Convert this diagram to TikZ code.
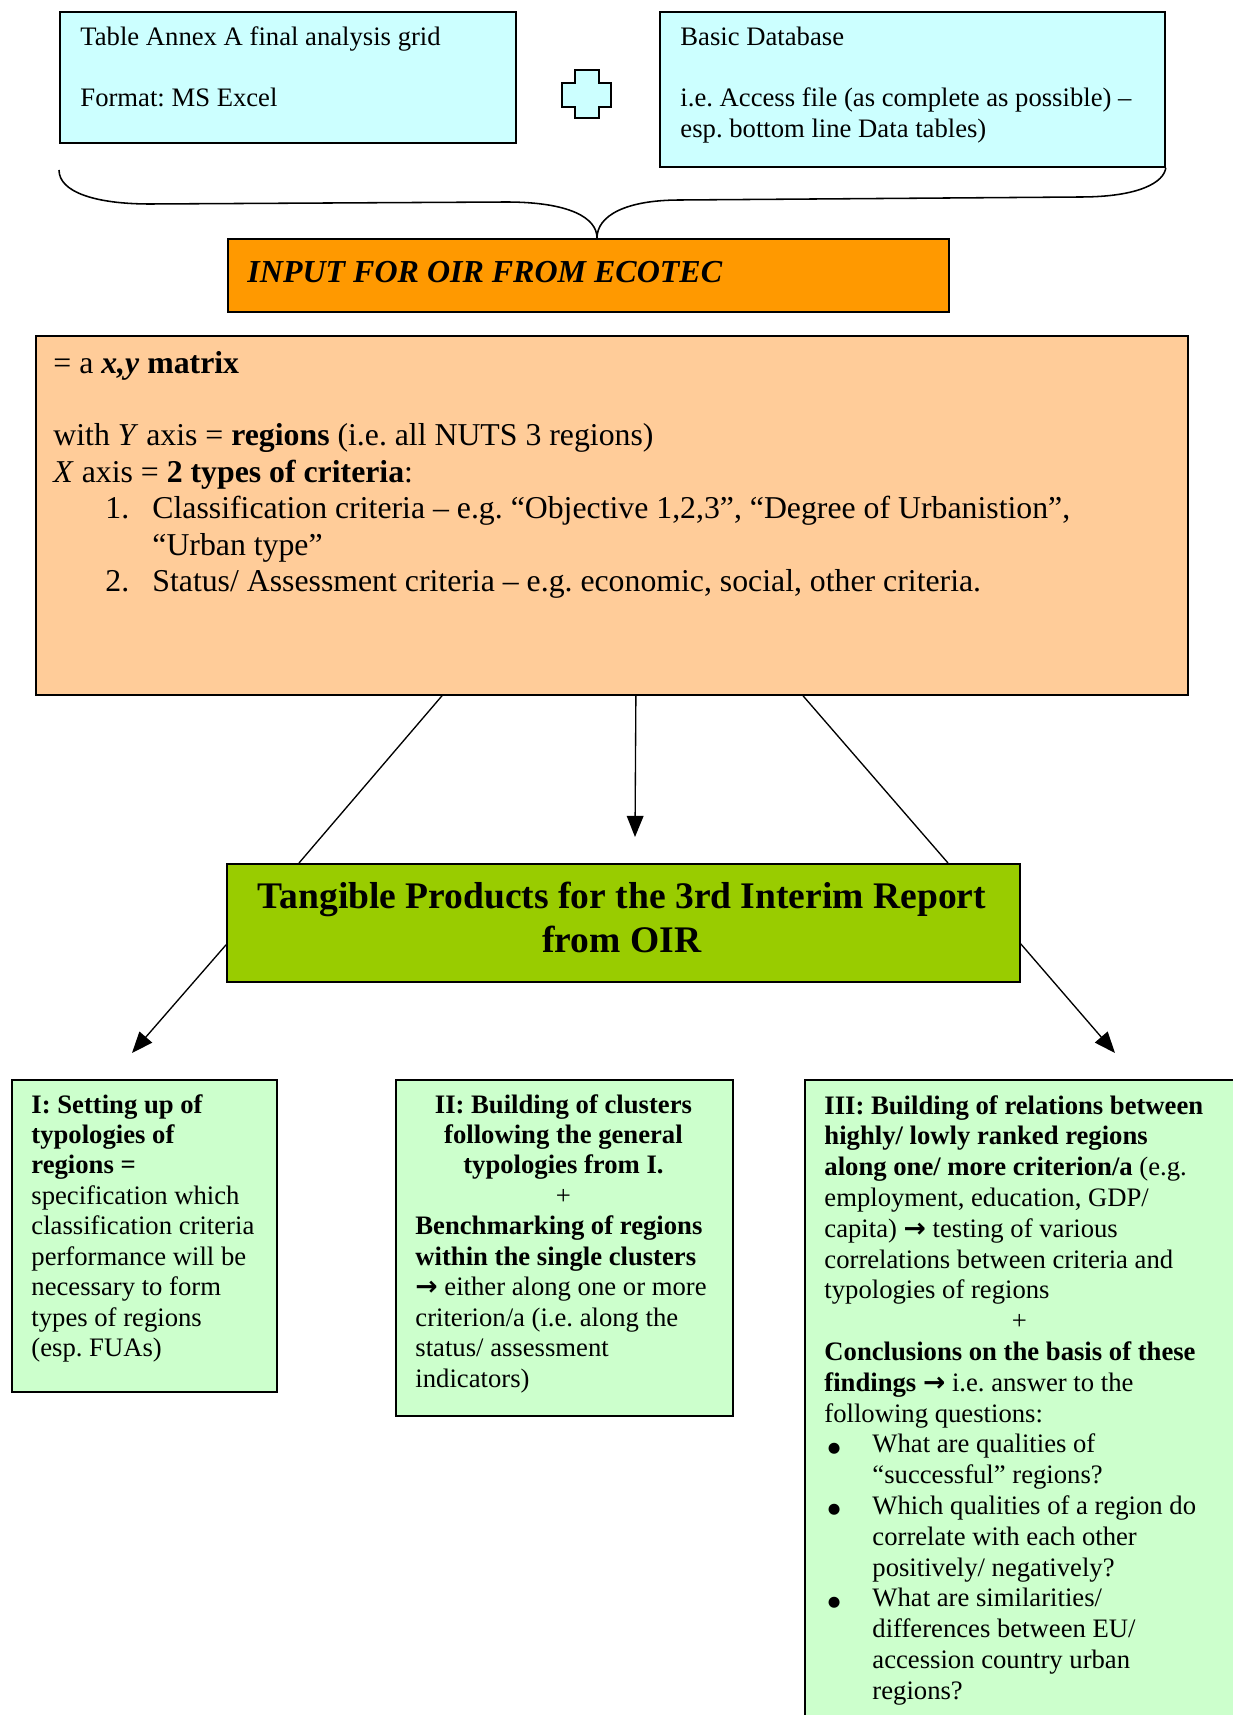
\documentclass[tikz,border=0pt]{standalone}
\usepackage{fontspec}
\setmainfont{Liberation Serif}
\newfontfamily\dejavu{DejaVu Sans}
\usetikzlibrary{arrows.meta,calc}
\definecolor{cyanbox}{HTML}{CCFFFF}
\definecolor{orangebox}{HTML}{FF9900}
\definecolor{peachbox}{HTML}{FFCC99}
\definecolor{greenbox}{HTML}{99CC00}
\definecolor{mintbox}{HTML}{CCFFCC}
\newcommand\arw{{\dejavu\bfseries →}}
\newcommand\blt{\raisebox{0.3pt}{\dejavu\fontsize{6.5}{6.5}\selectfont ●}}
\newcommand\fs[2]{\fontsize{#1}{#2}\selectfont}
\frenchspacing
\begin{document}
\begin{tikzpicture}[x=0.45pt,y=-0.45pt,
  pbox/.style n args={4}{draw=black, line width=0.8pt, inner sep=0pt, anchor=north west,
     minimum width={(#3-#1)*0.45pt}, minimum height={(#4-#2)*0.45pt}, at={(#1,#2)}},
  txt/.style={anchor=base west, inner sep=0pt, align=left},
  conn/.style={line width=0.6pt},
  arr/.style={line width=0.6pt, -{Triangle[length=9.5pt,width=7.5pt]}}]
\useasboundingbox (0,0) rectangle (1233,1715);
\clip (0,0) rectangle (1233,1715);
\fill[white] (0,0) rectangle (1233,1715);

% top boxes
\node[pbox={59}{11}{515}{142}, fill=cyanbox] (A) {};
\node[pbox={659}{11}{1164}{166}, fill=cyanbox] (B) {};
\node[txt] (tA) at (80,46) {\parbox[t]{190pt}{\fs{12}{13.7}Table Annex A final analysis grid\\[13.7pt]Format: MS Excel}};
\node[txt] (tB) at (680,46) {\parbox[t]{220pt}{\fs{12}{13.7}Basic Database\\[13.7pt]i.e. Access file (as complete as possible) –\\esp. bottom line Data tables)}};

% plus sign
\draw[fill=cyanbox, line width=0.7pt] (575,70) -- (599,70) -- (599,83) -- (611,83) -- (611,107) -- (599,107)
  -- (599,118) -- (575,118) -- (575,107) -- (562,107) -- (562,83) -- (575,83) -- cycle;

% orange input box
\node[pbox={227}{238}{948}{311}, fill=orangebox] (O) {};
\node[txt] (tO) at (247,282) {\fs{14.4}{16}\textbf{\textit{INPUT FOR OIR FROM ECOTEC}}};

% brace
\coordinate (btip) at (597,238);
\draw[line width=0.7pt] (59,170) .. controls (59,192) and (95,204) .. (150,204) -- (506,202)
  .. controls (570,202) and (597,218) .. (btip)
  .. controls (597,216) and (625,200) .. (680,200) -- (1080,197)
  .. controls (1140,197) and (1164,182) .. (B.south east);

% matrix box
\node[pbox={35}{335}{1187}{694}, fill=peachbox] (M) {};
\node[txt] (tM) at (53,373) {\parbox[t]{500pt}{\fs{14.3}{16.4}= a \textbf{\textit{x,y} matrix}\\[16.4pt]
with \textit{Y} axis = \textbf{regions} (i.e. all NUTS 3 regions)\\
\textit{X} axis = \textbf{2 types of criteria}:\\
\hspace*{23.4pt}\makebox[21.15pt][l]{1.}Classification criteria – e.g. “Objective 1,2,3”, “Degree of Urbanistion”,\\
\hspace*{44.55pt}“Urban type”\\
\hspace*{23.4pt}\makebox[21.15pt][l]{2.}Status/ Assessment criteria – e.g. economic, social, other criteria.}};

% green title box
\node[pbox={226}{863}{1019}{981}, fill=greenbox] (G) {};
\node[anchor=base, inner sep=0pt] (tG) at (622,908) {\parbox[t]{350pt}{\centering\fs{16.9}{19.8}\textbf{Tangible Products for the 3rd Interim Report\\from OIR}}};

% connectors matrix -> green
\coordinate (mtip) at (635,837);
\draw[conn] ([xshift=183.15pt]M.south west) -- ([xshift=32.85pt]G.north west);
\draw[conn] ([xshift=345.6pt]M.south west) -- ([xshift=324.9pt]G.north west);
\draw[arr] ([xshift=10.8pt]M.south) -- (mtip);

% arrows from green
\coordinate (ltip) at (132,1053);
\coordinate (rtip) at (1115,1053);
\draw[arr] ([yshift=-9.9pt]G.west) -- (ltip);
\draw[arr] ([yshift=-9.45pt]G.east) -- (rtip);

% bottom boxes
\node[pbox={11}{1079}{276}{1391}, fill=mintbox] (C1) {};
\node[pbox={395}{1079}{732}{1415}, fill=mintbox] (C2) {};
\node[pbox={804}{1079}{1245}{1730}, fill=mintbox] (C3) {};

\node[txt] (t1) at (31,1113) {\parbox[t]{115pt}{\fs{12}{13.7}\textbf{I: Setting up of}\\
\textbf{typologies of}\\
\textbf{regions =}\\
specification which\\
classification criteria\\
performance will be\\
necessary to form\\
types of regions\\
(esp. FUAs)}};

\node[txt] (t2) at (415,1113) {\parbox[t]{133.2pt}{\fs{12}{13.7}\makebox[133.2pt]{\textbf{II: Building of clusters}}\\
\makebox[133.2pt]{\textbf{following the general}}\\
\makebox[133.2pt]{\textbf{typologies from I.}}\\
\makebox[133.2pt]{+}\\
\textbf{Benchmarking of regions}\\
\textbf{within the single clusters}\\
\arw{} either along one or more\\
criterion/a (i.e. along the\\
status/ assessment\\
indicators)}};

\node[txt] (t3) at (824,1114) {\parbox[t]{190pt}{\fs{12}{13.86}\textbf{III: Building of relations between}\\
\textbf{highly/ lowly ranked regions}\\
\textbf{along one/ more criterion/a} (e.g.\\
employment, education, GDP/\\
capita) \arw{} testing of various\\
correlations between criteria and\\
typologies of regions\\
\makebox[175.5pt]{+}\\
\textbf{Conclusions on the basis of these}\\
\textbf{findings} \arw{} i.e. answer to the\\
following questions:\\
\hspace*{1.5pt}\makebox[20.1pt][l]{\blt}What are qualities of\\
\hspace*{21.6pt}“successful” regions?\\
\hspace*{1.5pt}\makebox[20.1pt][l]{\blt}Which qualities of a region do\\
\hspace*{21.6pt}correlate with each other\\
\hspace*{21.6pt}positively/ negatively?\\
\hspace*{1.5pt}\makebox[20.1pt][l]{\blt}What are similarities/\\
\hspace*{21.6pt}differences between EU/\\
\hspace*{21.6pt}accession country urban\\
\hspace*{21.6pt}regions?}};
\end{tikzpicture}
\end{document}
